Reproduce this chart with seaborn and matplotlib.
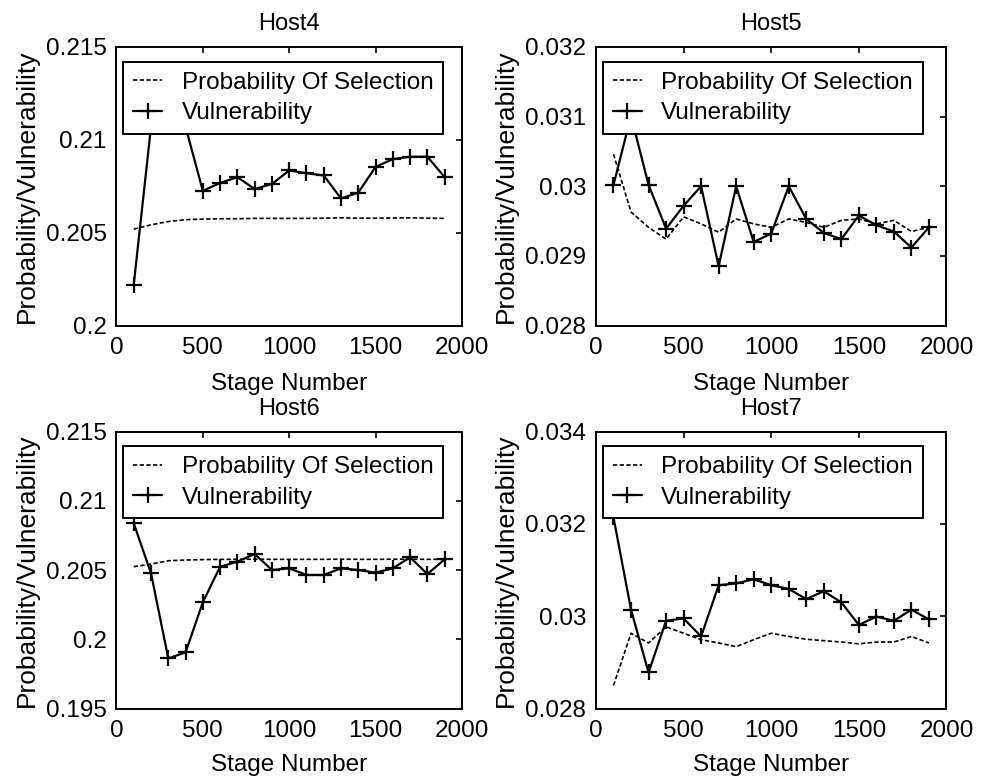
import matplotlib
matplotlib.use("Agg")
import matplotlib.pyplot as plt
import seaborn as sns
import pandas as pd
from matplotlib.ticker import FormatStrFormatter
from matplotlib.lines import Line2D

# ---------------- data ----------------
stages = [100, 200, 300, 400, 500, 600, 700, 800, 900, 1000,
          1100, 1200, 1300, 1400, 1500, 1600, 1700, 1800, 1900]

host4_prob = [0.20519, 0.20542, 0.20560, 0.20570, 0.20573, 0.20575, 0.20575, 0.20577, 0.20577, 0.20577,
              0.20577, 0.20578, 0.20580, 0.20578, 0.20578, 0.20579, 0.20580, 0.20578, 0.20577]
host4_vuln = [0.20220, 0.21070, 0.21075, 0.21070, 0.20725, 0.20768, 0.20799, 0.20735, 0.20762, 0.20835,
              0.20820, 0.20808, 0.20684, 0.20716, 0.20854, 0.20896, 0.20909, 0.20909, 0.20799]

host5_prob = [0.03046, 0.02963, 0.02941, 0.02924, 0.02956, 0.02946, 0.02934, 0.02953, 0.02946, 0.02941,
              0.02953, 0.02948, 0.02941, 0.02951, 0.02953, 0.02946, 0.02951, 0.02935, 0.02941]
host5_vuln = [0.03002, 0.03101, 0.03002, 0.02939, 0.02972, 0.03000, 0.02885, 0.03000, 0.02920, 0.02932,
              0.03000, 0.02953, 0.02933, 0.02924, 0.02958, 0.02944, 0.02935, 0.02912, 0.02941]

host6_prob = [0.20524, 0.20543, 0.20567, 0.20572, 0.20575, 0.20577, 0.20577, 0.20578, 0.20577, 0.20577,
              0.20577, 0.20577, 0.20578, 0.20577, 0.20577, 0.20578, 0.20578, 0.20577, 0.20577]
host6_vuln = [0.20837, 0.20476, 0.19862, 0.19905, 0.20267, 0.20524, 0.20560, 0.20616, 0.20500, 0.20512,
              0.20464, 0.20464, 0.20512, 0.20500, 0.20481, 0.20512, 0.20592, 0.20471, 0.20577]

host7_prob = [0.02850, 0.02963, 0.02942, 0.02977, 0.02963, 0.02949, 0.02942, 0.02934, 0.02949, 0.02963,
              0.02956, 0.02950, 0.02947, 0.02944, 0.02940, 0.02944, 0.02944, 0.02956, 0.02942]
host7_vuln = [0.03214, 0.03014, 0.02878, 0.02990, 0.02995, 0.02956, 0.03067, 0.03071, 0.03080, 0.03067,
              0.03059, 0.03037, 0.03054, 0.03030, 0.02981, 0.02999, 0.02990, 0.03014, 0.02993]

titles = ["Host4", "Host5", "Host6", "Host7"]
y_limits = [(0.2, 0.215), (0.028, 0.032), (0.195, 0.215), (0.028, 0.034)]
y_ticks = [[0.2, 0.205, 0.21, 0.215],
           [0.028, 0.029, 0.03, 0.031, 0.032],
           [0.195, 0.2, 0.205, 0.21, 0.215],
           [0.028, 0.03, 0.032, 0.034]]
x_ticks = [0, 500, 1000, 1500, 2000]
series_names = ["Probability Of Selection", "Vulnerability"]
x_label = "Stage Number"
y_label = "Probability/Vulnerability"

# ---------------- style ----------------
sns.set_theme(style="white")
plt.rcParams["font.family"] = ["Liberation Sans", "DejaVu Sans"]
plt.rcParams["axes.linewidth"] = 1.4
plt.rcParams["axes.edgecolor"] = "black"

FS = 17.5

fig = plt.figure(figsize=(9.82, 7.84), dpi=100)
positions = [
    [0.1186, 0.5848, 0.3518, 0.3553],
    [0.6069, 0.5848, 0.3569, 0.3553],
    [0.1186, 0.0963, 0.3518, 0.3533],
    [0.6069, 0.0963, 0.3569, 0.3533],
]
xlabel_pads = [10, 10, 9, 9]
probs = [host4_prob, host5_prob, host6_prob, host7_prob]
vulns = [host4_vuln, host5_vuln, host6_vuln, host7_vuln]

for i in range(4):
    ax = fig.add_axes(positions[i])
    df_p = pd.DataFrame({"Stage": stages, "Value": probs[i]})
    df_v = pd.DataFrame({"Stage": stages, "Value": vulns[i]})
    sns.lineplot(data=df_p, x="Stage", y="Value", ax=ax, color="black",
                 linewidth=1.2, linestyle=(0, (2.6, 1.4)), estimator=None, sort=False)
    sns.lineplot(data=df_v, x="Stage", y="Value", ax=ax, color="black",
                 linewidth=1.6, marker="+", markersize=12,
                 markeredgecolor="black", markeredgewidth=1.6,
                 estimator=None, sort=False)
    ax.set_xlim(0, 2000)
    ax.set_ylim(*y_limits[i])
    ax.set_xticks(x_ticks)
    ax.set_yticks(y_ticks[i])
    ax.yaxis.set_major_formatter(FormatStrFormatter("%g"))
    ax.xaxis.set_major_formatter(FormatStrFormatter("%g"))
    ax.tick_params(direction="in", top=True, right=True, length=4, width=1.2,
                   labelsize=FS, colors="black")
    ax.tick_params(axis="x", pad=8)
    ax.tick_params(axis="y", pad=7)
    ax.set_xlabel(x_label, fontsize=FS, labelpad=xlabel_pads[i], color="black")
    ax.set_ylabel(y_label, fontsize=19, labelpad=5, color="black")
    ax.set_title(titles[i], fontsize=FS - 0.5, pad=12, color="black")
    for s in ax.spines.values():
        s.set_visible(True)
        s.set_color("black")
        s.set_linewidth(1.4)

    handles = [
        Line2D([], [], color="black", linewidth=1.2, linestyle=(0, (2.6, 1.4))),
        Line2D([], [], color="black", linewidth=1.6, marker="+", markersize=12,
               markeredgewidth=1.6),
    ]
    leg = ax.legend(handles, series_names, loc="upper left",
                    bbox_to_anchor=(0.02, 0.946), borderaxespad=0,
                    fontsize=FS, frameon=True, fancybox=False, framealpha=1,
                    edgecolor="black", handlelength=1.2, handletextpad=0.8,
                    labelspacing=0.35, borderpad=0.4)
    leg.get_frame().set_linewidth(1.4)
    for t in leg.get_texts():
        t.set_color("black")
    leg.set_zorder(10)

fig.savefig("out.png", dpi=100)
